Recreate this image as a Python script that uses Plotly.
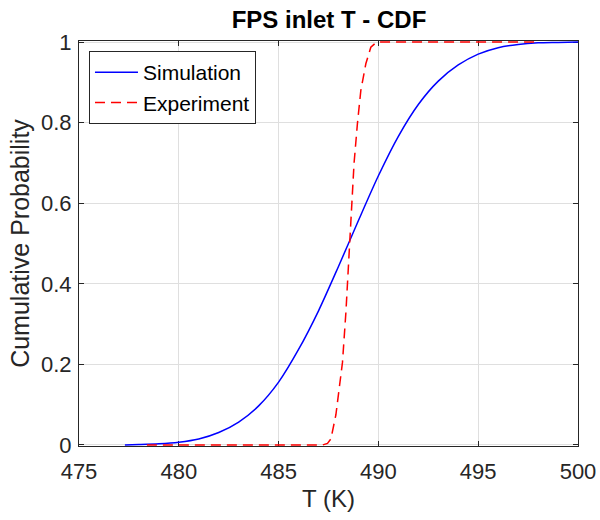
import plotly.graph_objects as go

# Simulation CDF
sim_T = [477.3, 478, 479, 480, 481, 482, 483, 484, 485, 486, 487, 488, 489,
         490, 491, 492, 493, 494, 495, 496, 497, 498, 499, 500]
sim_P = [0.000, 0.001, 0.003, 0.007, 0.015, 0.031, 0.057, 0.097, 0.156, 0.237,
         0.333, 0.443, 0.557, 0.668, 0.766, 0.845, 0.903, 0.943, 0.970, 0.986,
         0.994, 0.998, 0.999, 1.000]

# Experiment CDF
exp_T = [478.4, 480, 482, 484, 486, 487.2, 487.45, 487.62, 487.87, 488.2, 488.37,
         488.5, 488.62, 488.78, 488.95, 489.12, 489.37, 489.62, 489.87, 490.0,
         492, 494, 496, 498]
exp_P = [0, 0, 0, 0, 0, 0.000, 0.004, 0.015, 0.075, 0.205, 0.328,
         0.452, 0.575, 0.699, 0.798, 0.880, 0.946, 0.987, 0.998, 1.0,
         1, 1, 1, 1]

x_ticks = [475, 480, 485, 490, 495, 500]
y_ticks = [0, 0.2, 0.4, 0.6, 0.8, 1]
y_tick_text = ["0", "0.2", "0.4", "0.6", "0.8", "1"]

FONT = "Arial, Liberation Sans, Helvetica, sans-serif"
AX = "#262626"

fig = go.Figure()
fig.add_trace(go.Scatter(x=sim_T, y=sim_P, mode="lines", name="Simulation",
                         line=dict(color="#0000FF", width=1.5, shape="spline", smoothing=0.8)))
fig.add_trace(go.Scatter(x=exp_T, y=exp_P, mode="lines", name="Experiment",
                         line=dict(color="#FF0000", width=1.5, dash="10px,6px")))

axis_common = dict(showline=True, linecolor=AX, linewidth=1, mirror="ticks",
                   ticks="inside", ticklen=5, tickcolor=AX, tickwidth=1,
                   showgrid=True, gridcolor="#dfdfdf", gridwidth=1,
                   zeroline=False, layer="below traces", automargin=False,
                   tickfont=dict(family=FONT, size=22, color=AX))

fig.update_layout(
    width=600, height=520,
    margin=dict(l=79, r=22, t=41, b=74),
    paper_bgcolor="white", plot_bgcolor="white",
    title=dict(text="<b>FPS inlet T - CDF</b>", x=329/600, xanchor="center",
               y=1 - 20/520, yanchor="middle", yref="container",
               font=dict(family=FONT, size=24, color="black")),
    xaxis=dict(range=[475, 500], tickvals=x_ticks, ticklabelstandoff=6, **axis_common,
               title=dict(text="T (K)", font=dict(family=FONT, size=24, color=AX), standoff=6)),
    yaxis=dict(range=[-0.0025, 1.0025], tickvals=y_ticks, ticktext=y_tick_text,
               ticklabelstandoff=2, **axis_common,
               title=dict(text="Cumulative Probability", font=dict(family=FONT, size=25, color=AX), standoff=4)),
    legend=dict(x=0.02, y=0.975, xanchor="left", yanchor="top",
                bgcolor="white", bordercolor=AX, borderwidth=1,
                font=dict(family=FONT, size=21, color="black"),
                tracegroupgap=0, itemwidth=43),
    showlegend=True,
)

fig.write_html("out.html")
